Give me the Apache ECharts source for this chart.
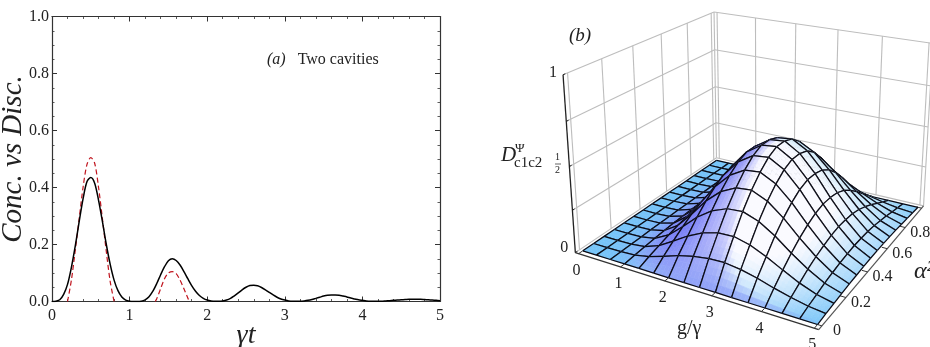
<!DOCTYPE html>
<html><head><meta charset="utf-8">
<style>html,body{margin:0;padding:0;background:#fff}#c{width:930px;height:347px}</style>
<script src="https://cdn.jsdelivr.net/npm/echarts@6/dist/echarts.min.js"></script></head>
<body><div id="c"></div>
<script>
// ---- panel (a) data
const tSolid=[0,.05,.1,.15,.2,.25,.3,.35,.4,.45,.5,.55,.6,.65,.7,.75,.8,.85,.9,.95,1,1.05,1.1,1.15,1.2,1.25,1.3,1.35,1.4,1.45,1.5,1.55,1.6,1.65,1.7,1.75,1.8,1.85,1.9,1.95,2,2.05,2.1,2.15,2.2,2.25,2.3,2.35,2.4,2.45,2.5,2.55,2.6,2.65,2.7,2.75,2.8,2.85,2.9,2.95,3,3.05,3.1,3.15,3.2,3.25,3.3,3.35,3.4,3.45,3.5,3.55,3.6,3.65,3.7,3.75,3.8,3.85,3.9,3.95,4,4.05,4.1,4.15,4.2,4.25,4.3,4.35,4.4,4.45,4.5,4.55,4.6,4.65,4.7,4.75,4.8,4.85,4.9,4.95,5];
const concurrence=[0,.001,.006,.025,.06,.12,.195,.28,.36,.42,.435,.415,.355,.28,.2,.13,.075,.038,.016,.005,.001,0,0,.001,.006,.017,.036,.063,.094,.122,.143,.15,.144,.128,.105,.08,.056,.036,.021,.011,.005,.002,.001,.001,.002,.005,.011,.02,.03,.041,.05,.056,.057,.055,.049,.041,.032,.023,.015,.009,.005,.002,.001,.001,.001,.002,.004,.007,.011,.015,.019,.022,.023,.023,.022,.019,.016,.012,.009,.006,.004,.002,.001,.001,.001,.001,.002,.003,.004,.005,.006,.007,.008,.008,.008,.008,.007,.006,.005,.004,.003];
const tDashed=[.2,.25,.3,.35,.4,.45,.5,.55,.6,.65,.7,.75,.8,null,1.33,1.35,1.4,1.45,1.5,1.55,1.6,1.65,1.7,1.75,1.77];
const discord=[0,.075,.18,.29,.40,.48,.505,.485,.40,.29,.175,.07,0,null,0,.01,.045,.08,.1,.105,.098,.075,.045,.012,0];
const xTicks=[0,1,2,3,4,5];
const yMax=1;
// ---- panel (b) data: rows alpha^2 = j/15, columns g/gamma = i/3
const surfaceZ=[
[0,0,0,0,0,0,0,0,0,0,0,0,0,0,0,0],
[0,0,.001,.007,.024,.051,.081,.103,.116,.119,.107,.086,.059,.036,.017,.006],
[0,0,.002,.013,.044,.095,.150,.193,.217,.221,.199,.159,.111,.066,.031,.011],
[0,0,.003,.019,.064,.137,.217,.277,.312,.319,.287,.230,.159,.096,.045,.016],
[0,0,.004,.024,.080,.172,.272,.348,.391,.400,.360,.288,.200,.120,.056,.020],
[0,0,.004,.028,.093,.200,.316,.404,.455,.464,.418,.335,.232,.139,.065,.023],
[0,0,.005,.030,.103,.220,.349,.447,.503,.513,.462,.370,.257,.154,.072,.026],
[0,0,.005,.032,.108,.232,.367,.470,.529,.540,.486,.389,.270,.162,.076,.027],
[0,0,.005,.032,.107,.231,.366,.469,.528,.539,.485,.388,.269,.161,.075,.027],
[0,0,.005,.031,.104,.223,.352,.451,.508,.518,.467,.373,.259,.156,.073,.026],
[0,0,.004,.028,.094,.202,.319,.409,.460,.470,.423,.338,.235,.141,.066,.023],
[0,0,.004,.023,.079,.169,.268,.343,.386,.394,.355,.284,.197,.118,.055,.020],
[0,0,.003,.018,.060,.130,.206,.263,.296,.302,.272,.218,.151,.091,.043,.015],
[0,0,.002,.012,.040,.086,.136,.174,.196,.200,.180,.144,.100,.060,.028,.010],
[0,0,.001,.006,.019,.042,.066,.085,.095,.097,.087,.070,.049,.029,.014,.005],
[0,0,0,0,0,0,0,0,0,0,0,0,0,0,0,0]];
const gTicks=[0,1,2,3,4,5];
const aTicks=[0,.2,.4,.6,.8,1];
const zGrid=[0,.25,.5,.75,1];
// camera: unit-box corners -> screen anchors
const anchors=[[0,0,0,576,253],[1,0,0,818,330],[1,1,0,924,205],[0,1,0,716,158],[0,0,1,563,74],[0,1,1,714,12],[1,1,1,933,44]];

function solve(A,b){const n=b.length;for(let i=0;i<n;i++){let p=i;for(let r=i+1;r<n;r++)if(Math.abs(A[r][i])>Math.abs(A[p][i]))p=r;[A[i],A[p]]=[A[p],A[i]];[b[i],b[p]]=[b[p],b[i]];for(let r=i+1;r<n;r++){const f=A[r][i]/A[i][i];for(let c=i;c<n;c++)A[r][c]-=f*A[i][c];b[r]-=f*b[i];}}
 const x=new Array(n);for(let i=n-1;i>=0;i--){let s=b[i];for(let c=i+1;c<n;c++)s-=A[i][c]*x[c];x[i]=s/A[i][i];}return x;}
function fitCamera(){const R=[],Y=[];anchors.forEach(([u,v,w,sx,sy])=>{R.push([u,v,w,1,0,0,0,0,-u*sx,-v*sx,-w*sx]);Y.push(sx);R.push([0,0,0,0,u,v,w,1,-u*sy,-v*sy,-w*sy]);Y.push(sy);});
 const N=11,A=[],b=[];for(let i=0;i<N;i++){A.push(new Array(N).fill(0));b.push(0);for(let k=0;k<R.length;k++){b[i]+=R[k][i]*Y[k];for(let j=0;j<N;j++)A[i][j]+=R[k][i]*R[k][j];}}return solve(A,b);}
const P=fitCamera();
function box(u,v,w){const d=P[8]*u+P[9]*v+P[10]*w+1;return[(P[0]*u+P[1]*v+P[2]*w+P[3])/d,(P[4]*u+P[5]*v+P[6]*w+P[7])/d];}
const uOf=g=>(g+.08)/5.16, vOf=a=>(a+.025)/1.05;
const proj=(g,a,z)=>box(uOf(g),vOf(a),z);
const nG=surfaceZ[0].length-1,nA=surfaceZ.length-1;
const Z=(i,j)=>surfaceZ[Math.max(0,Math.min(nA,j))][Math.max(0,Math.min(nG,i))];
const gradG=(i,j)=>(Z(i+1,j)-Z(i-1,j))/((Math.min(nG,i+1)-Math.max(0,i-1))/nG);
const gradA=(i,j)=>(Z(i,j+1)-Z(i,j-1))/((Math.min(nA,j+1)-Math.max(0,j-1))/nA);
const clamp=x=>Math.max(0,Math.min(1,x));
const mix=(a,b,t)=>a.map((v,k)=>v+(b[k]-v)*t);
const FLOOR=[118,196,248],WHITE=[250,250,255],VIOLET=[122,128,246],CYAN=[190,230,250];
function shade(gx,ga,z){const m=Math.sqrt(1+gx*gx+ga*ga),nx=-gx/m,ny=-ga/m,t=z/.54;
 let c=mix(FLOOR,WHITE,clamp(.5*Math.max(0,-ny)+.4*Math.max(0,nx)+1.2*Math.pow(t,.7)));
 c=mix(c,CYAN,clamp(Math.max(0,ny)*1.6));
 c=mix(c,VIOLET,clamp(-nx*1.2+Math.max(0,-ny)*.75*(1-t)*clamp(1-7*nx)));
 return 'rgb('+c.map(Math.round).join(',')+')';}
const SUB=4;
function renderCell(params,api){const i=api.value(0),j=api.value(1),ch=[];
 const q=(s,t)=>{const a=i+s/SUB,b=j+t/SUB,fs=s/SUB,ft=t/SUB;
  const bl=(f)=>(f(i,j)*(1-fs)+f(i+1,j)*fs)*(1-ft)+(f(i,j+1)*(1-fs)+f(i+1,j+1)*fs)*ft;
  const z=bl(Z);return{p:proj(a/nG*5,b/nA,z),gx:bl(gradG),ga:bl(gradA),z};};
 for(let t=SUB-1;t>=0;t--)for(let s=0;s<SUB;s++){const A=q(s,t),B=q(s+1,t),C=q(s+1,t+1),D=q(s,t+1);
  const col=shade((A.gx+C.gx)/2,(A.ga+C.ga)/2,(A.z+C.z)/2);
  ch.push({type:'polygon',shape:{points:[A.p,B.p,C.p,D.p]},style:{fill:col,stroke:col,lineWidth:.6}});}
 const edge=(pts)=>ch.push({type:'polyline',shape:{points:pts},style:{fill:'none',stroke:'#0a0a14',lineWidth:1.25}});
 const P3=(a,b)=>proj(a/nG*5,b/nA,Z(a,b));
 edge([P3(i,j+1),P3(i+1,j+1)]);edge([P3(i,j),P3(i,j+1)]);edge([P3(i+1,j),P3(i+1,j+1)]);edge([P3(i,j),P3(i+1,j)]);
 return{type:'group',children:ch};}
const cells=[];for(let i=0;i<nG;i++)for(let j=nA-1;j>=0;j--)cells.push([i,j]);

function renderFrame(){const ch=[];const L=(pts,c,w)=>ch.push({type:'polyline',shape:{points:pts},style:{fill:'none',stroke:c,lineWidth:w}});
 const GR='#bdbdbd';
 zGrid.forEach(z=>{L([box(0,0,z),box(0,1,z)],GR,1.1);L([box(0,1,z),box(1,1,z)],GR,1.1);});
 aTicks.forEach(a=>L([box(0,vOf(a),0),box(0,vOf(a),1)],GR,1.1));
 gTicks.forEach(g=>L([box(uOf(g),1,0),box(uOf(g),1,1)],GR,1.1));
 L([box(0,1,0),box(0,1,1)],GR,1.1);L([box(1,1,0),box(1,1,1)],GR,1.1);
 L([box(0,0,0),box(1,0,0)],'#333',1.3);L([box(1,0,0),box(1,1,0)],'#555',1.2);L([box(0,0,0),box(0,0,1)],'#222',1.3);
 gTicks.forEach(g=>L([box(uOf(g),0,0),box(uOf(g),.022,0)],'#333',1));
 aTicks.forEach(a=>L([box(1,vOf(a),0),box(.978,vOf(a),0)],'#333',1));
 zGrid.forEach(z=>L([box(0,0,z),box(0,.012,z)],'#222',1));
 return{type:'group',children:ch};}
function renderLabels(){const ch=[];const T=(txt,p,dx,dy,sz)=>ch.push({type:'text',style:{text:txt,x:p[0]+dx,y:p[1]+dy,font:(sz||14)+'px "Liberation Serif"',fill:'#222',textAlign:'center',textVerticalAlign:'middle'}});
 gTicks.forEach(g=>T(String(g),box(uOf(g),0,0),-2,17,16));
 aTicks.forEach(a=>T(String(a),box(1,vOf(a),0),15,5,16));
 T('1',box(0,0,1),-10,-2,16);T('0',box(0,0,0),-11,-5,16);
 return{type:'group',children:ch};}

const serif='"Liberation Serif","Times New Roman",serif';
const axisCommon={min:0,nameMoveOverlap:false,axisLine:{onZero:false,lineStyle:{color:'#333',width:1.2}},axisTick:{inside:true,length:5,lineStyle:{color:'#333',width:1}},minorTick:{show:true,length:2.5,lineStyle:{color:'#333',width:.8}},splitLine:{show:false},minorSplitLine:{show:false},axisLabel:{fontFamily:serif,fontSize:16,color:'#222'}};
const option={animation:false,backgroundColor:'#fff',
 grid:{left:52,top:16.5,width:388,height:285,containLabel:false,outerBoundsMode:'none'},
 xAxis:[Object.assign({},axisCommon,{type:'value',max:xTicks[xTicks.length-1],interval:1,minorTick:Object.assign({},axisCommon.minorTick,{splitNumber:5}),axisLabel:Object.assign({},axisCommon.axisLabel,{margin:6,hideOverlap:false,showMaxLabel:true,showMinLabel:true}),
   name:'γt',nameLocation:'middle',nameGap:20,nameTextStyle:{fontFamily:serif,fontStyle:'italic',fontSize:28,color:'#222',verticalAlign:'top'}}),
  Object.assign({},axisCommon,{type:'value',position:'top',max:xTicks[xTicks.length-1],interval:1,minorTick:Object.assign({},axisCommon.minorTick,{splitNumber:5}),axisLabel:{show:false}})],
 yAxis:[Object.assign({},axisCommon,{type:'value',max:yMax,interval:.2,minorTick:Object.assign({},axisCommon.minorTick,{splitNumber:4}),axisLabel:Object.assign({},axisCommon.axisLabel,{margin:3,formatter:v=>v.toFixed(1),showMaxLabel:true,showMinLabel:true}),
   name:'Conc. vs Disc.',nameLocation:'middle',nameGap:24,nameRotate:90,nameTextStyle:{fontFamily:serif,fontStyle:'italic',fontSize:29,color:'#222'}}),
  Object.assign({},axisCommon,{type:'value',position:'right',max:yMax,interval:.2,minorTick:Object.assign({},axisCommon.minorTick,{splitNumber:4}),axisLabel:{show:false}})],
 series:[
 {name:'Discord',type:'line',showSymbol:false,symbol:'none',smooth:.3,connectNulls:false,data:tDashed.map((t,k)=>t===null?[null,null]:[t,discord[k]]),lineStyle:{color:'#c0141e',width:1.2,type:[5,3]},z:3},
 {name:'Concurrence',type:'line',showSymbol:false,symbol:'none',smooth:.3,data:tSolid.map((t,k)=>[t,concurrence[k]]),lineStyle:{color:'#000',width:1.5},z:4},
 {type:'custom',coordinateSystem:'none',renderItem:renderFrame,data:[[0]],z:5,silent:true,clip:false},
 {type:'custom',coordinateSystem:'none',renderItem:renderCell,data:cells,z:6,silent:true,clip:false,progressive:0},
 {type:'custom',coordinateSystem:'none',renderItem:renderLabels,data:[[0]],z:7,silent:true,clip:false}
 ],
 graphic:[
 {type:'text',left:267,top:52,silent:true,style:{text:'{i|(a)}   Two cavities',rich:{i:{fontFamily:serif,fontStyle:'italic',fontSize:16,fill:'#222'}},fontFamily:serif,fontSize:16,fill:'#222'}},
 {type:'text',left:569,top:26,silent:true,style:{text:'(b)',fontFamily:serif,fontStyle:'italic',fontSize:19,fill:'#222'}},
 {type:'text',left:501,top:145,silent:true,style:{text:'D',fontFamily:serif,fontStyle:'italic',fontSize:21,fill:'#222'}},
 {type:'text',left:515,top:142,silent:true,style:{text:'Ψ',fontFamily:serif,fontSize:13,fill:'#222'}},
 {type:'text',left:514,top:156,silent:true,style:{text:'c1c2',fontFamily:serif,fontSize:15,fill:'#222'}},
 {type:'text',left:555,top:152,silent:true,style:{text:'1',fontFamily:serif,fontSize:10,fill:'#222'}},
 {type:'line',silent:true,shape:{x1:555,y1:164,x2:561,y2:164},style:{stroke:'#222',lineWidth:.7}},
 {type:'text',left:555,top:165,silent:true,style:{text:'2',fontFamily:serif,fontSize:10,fill:'#222'}},
 {type:'text',left:677,top:319,silent:true,style:{text:'g/γ',fontFamily:serif,fontSize:20,fill:'#222'}},
 {type:'text',left:914,top:260,silent:true,style:{text:'α²',fontFamily:serif,fontStyle:'italic',fontSize:24,fill:'#222'}}
 ]};
const chart=echarts.init(document.getElementById('c'),null,{renderer:'canvas'});
chart.setOption(option);
</script></body></html>
